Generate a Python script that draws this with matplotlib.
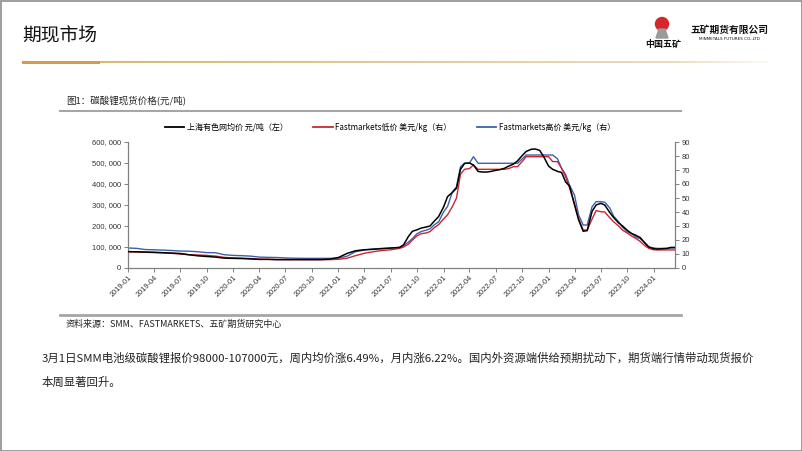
import numpy as np
import pandas as pd
import matplotlib
matplotlib.use("Agg")
import matplotlib.pyplot as plt
from matplotlib.lines import Line2D
from matplotlib.patches import Rectangle, Circle, Polygon
from matplotlib.ticker import FuncFormatter, MultipleLocator

plt.rcParams['font.family'] = ['Noto Sans CJK SC', 'DejaVu Sans']

# ---------------- data ----------------
monthly_dates = pd.date_range('2019-01-01', '2021-08-01', freq='MS')
semi_dates = []
for d in pd.date_range('2021-08-01', '2024-03-01', freq='MS'):
    if d > pd.Timestamp('2021-08-01'):
        semi_dates.append(d)
    semi_dates.append(d + pd.Timedelta(days=14))
dates = list(monthly_dates) + semi_dates  # ends 2024-03-15

smm_avg = [  # 上海有色网均价, 元/吨 (thousands)
    78, 77, 76, 75, 73, 71, 69, 63, 58, 55, 52, 47,
    46, 45, 43, 41, 41, 40, 40, 40, 40, 40, 40, 42,
    50, 70, 82, 87, 89, 92, 95, 98,
    110, 150, 175, 182, 190, 195, 200, 225, 245,
    290, 340, 360, 380, 470, 498, 500, 490, 460, 457,
    457, 460, 465, 468, 475, 485, 495, 510, 535, 555,
    565, 567, 560, 530, 485, 470, 460, 455, 410, 390,
    300, 230, 175, 178, 270, 300, 308, 300, 265, 240,
    215, 200, 180, 165, 155, 145, 120, 100, 92, 90,
    92, 93, 98, 98,
]
fm_low = [  # Fastmarkets低价, 美元/kg
    11.6, 11.5, 11.2, 11.0, 10.8, 10.5, 10.0, 9.5, 9.3, 9.0, 8.5, 7.6,
    7.2, 7.0, 6.8, 6.3, 6.2, 6.0, 6.0, 6.0, 6.0, 6.0, 6.0, 6.0,
    6.2, 7.0, 8.8, 10.5, 11.6, 12.5, 13.0, 14.0,
    15.0, 17.0, 20.0, 23.0, 24.5, 25.0, 26.0, 29.0, 31.0,
    35.0, 38.0, 44.0, 50.0, 67.0, 70.5, 71.0, 73.6, 70.5, 70.5,
    70.5, 70.5, 70.5, 70.5, 70.5, 71.0, 72.4, 72.4, 76.0, 79.5,
    79.5, 79.5, 79.5, 79.5, 79.5, 76.0, 76.0, 71.2, 65.2, 57.0,
    46.0, 35.5, 27.1, 27.1, 35.0, 41.0, 40.2, 40.0, 36.0, 33.0,
    30.0, 27.0, 25.0, 23.0, 21.0, 19.0, 16.0, 14.0, 13.0, 12.9,
    12.9, 12.9, 12.9, 12.9,
]
fm_high = [  # Fastmarkets高价, 美元/kg
    14.3, 14.0, 13.2, 13.0, 12.8, 12.5, 12.1, 12.0, 11.6, 11.0, 10.9, 9.5,
    9.0, 8.8, 8.5, 7.8, 7.6, 7.5, 7.2, 7.0, 6.9, 6.9, 6.9, 6.9,
    7.0, 8.5, 11.6, 12.8, 13.6, 14.0, 14.2, 14.6,
    16.0, 18.5, 21.0, 24.5, 26.0, 27.0, 28.0, 31.0, 33.0,
    40.0, 44.0, 54.5, 58.0, 72.4, 74.8, 75.0, 79.5, 74.8, 74.8,
    74.8, 74.8, 74.8, 74.8, 74.8, 74.8, 74.8, 74.8, 77.9, 80.7,
    80.7, 80.7, 80.7, 80.7, 80.7, 80.7, 78.0, 71.2, 66.9, 59.0,
    52.0, 38.0, 30.7, 30.7, 43.8, 47.4, 47.4, 47.0, 43.0, 37.0,
    33.0, 29.0, 26.0, 24.8, 22.0, 21.0, 18.0, 15.0, 14.3, 14.0,
    14.0, 14.0, 14.3, 14.3,
]
tick_labels = [f'{y}-{m:02d}' for y in range(2019, 2025) for m in (1, 4, 7, 10)][:21]
series_labels = ['上海有色网均价 元/吨（左）', 'Fastmarkets低价 美元/kg（右）', 'Fastmarkets高价 美元/kg（右）']

# ---------------- figure ----------------
W, H = 802, 451
fig = plt.figure(figsize=(W / 100, H / 100), dpi=100)
bg = fig.add_axes([0, 0, 1, 1])
bg.set_xlim(0, W)
bg.set_ylim(H, 0)
bg.axis('off')

# frame
bg.add_patch(Rectangle((0.5, 0.5), W - 1, H - 1, fill=False, ec='#8c8c8c', lw=1.2))

# header
bg.text(22, 36, '期现市场', fontsize=13.5, color='#111111', va='center', ha='left')
grad = np.linspace(0, 1, 400)
c0 = np.array([0.86, 0.72, 0.45])
c1 = np.array([0.93, 0.88, 0.78])
rgb = c0[None, :] * (1 - grad[:, None]) + c1[None, :] * grad[:, None]
alpha = np.ones(400)
alpha[-60:] = np.linspace(1, 0.2, 60)
img = np.concatenate([rgb, alpha[:, None]], axis=1)[None, :, :]
bg.imshow(img, extent=[100, 769, 63, 61.5], aspect='auto', zorder=2)
bg.add_patch(Rectangle((22, 61), 78, 2.6, color='#D99A4E', lw=0, zorder=3))

# logo
bg.add_patch(Circle((662, 24), 6.5, color='#D7262B', zorder=3))
bg.add_patch(Polygon([[656, 38], [668, 38], [665, 29], [659, 29]], closed=True, color='#9a9a9a', zorder=3))
bg.text(663, 44.5, '中国五矿', fontsize=6.5, fontweight='bold', ha='center', va='center', color='#111111')
bg.text(729, 30, '五矿期货有限公司', fontsize=7, fontweight='bold', ha='center', va='center', color='#111111')
bg.text(729, 38.5, 'MINMETALS FUTURES CO.,LTD', fontsize=3, ha='center', va='center', color='#111111',
        family='DejaVu Sans')

# chart caption and rules
bg.text(66, 101, '图1：碳酸锂现货价格(元/吨)', fontsize=6.8, ha='left', va='center', color='#222222')
bg.plot([60, 681], [111, 111], color='#a6a6a6', lw=1.5)
bg.plot([60, 681], [314.5, 314.5], color='#a6a6a6', lw=2)
bg.text(66, 324.5, '资料来源：SMM、FASTMARKETS、五矿期货研究中心', fontsize=6.5, ha='left', va='center', color='#222222')

# body text
bg.text(42, 358, '3月1日SMM电池级碳酸锂报价98000-107000元，周内均价涨6.49%，月内涨6.22%。国内外资源端供给预期扰动下，期货端行情带动现货报价',
        fontsize=8.2, ha='left', va='center', color='#222222')
bg.text(42, 382, '本周显著回升。', fontsize=8.2, ha='left', va='center', color='#222222')

# ---------------- main chart ----------------
L, R, T, B = 128, 675, 142, 268
ax = fig.add_axes([L / W, 1 - B / H, (R - L) / W, (B - T) / H])
ax2 = ax.twinx()

black_c, red_c, blue_c = '#000000', '#CF2530', '#3B62AE'
x = pd.to_datetime(dates)
ax.plot(x, np.array(smm_avg) * 1000, color=black_c, lw=1.1, zorder=3)
ax2.plot(x, fm_low, color=red_c, lw=1.0, zorder=2)
ax2.plot(x, fm_high, color=blue_c, lw=1.0, zorder=1)
ax.set_zorder(ax2.get_zorder() + 1)
ax.patch.set_visible(False)

ax.set_xlim(x[0], x[-1])
ax.set_ylim(0, 600000)
ax2.set_ylim(0, 90)
ax.yaxis.set_major_locator(MultipleLocator(100000))
ax2.yaxis.set_major_locator(MultipleLocator(10))
ax.yaxis.set_major_formatter(FuncFormatter(lambda v, p: f'{int(v):,}'.replace(',', ', ')))

tick_pos = pd.to_datetime([t + '-01' for t in tick_labels])
ax.set_xticks(tick_pos)
ax.set_xticklabels(tick_labels, rotation=45, ha='right', rotation_mode='anchor')

for a in (ax, ax2):
    for s in a.spines.values():
        s.set_color('#808080')
        s.set_linewidth(0.9)
    a.spines['top'].set_visible(False)
ax.spines['right'].set_visible(False)
ax2.spines['left'].set_visible(False)
ax2.spines['bottom'].set_visible(False)

ax.tick_params(axis='x', direction='out', length=3, width=0.7, color='#808080', labelsize=5.3, pad=1.5, labelcolor='#333333')
ax.tick_params(axis='y', direction='out', length=3, width=0.7, color='#808080', labelsize=5.5, pad=2, labelcolor='#333333')
ax2.tick_params(axis='y', direction='out', length=3, width=0.7, color='#808080', labelsize=5.5, pad=2, labelcolor='#333333')
for lab in ax.get_xticklabels() + ax.get_yticklabels() + ax2.get_yticklabels():
    lab.set_family('Liberation Sans')

handles = [Line2D([], [], color=black_c, lw=1.3), Line2D([], [], color=red_c, lw=1.3),
           Line2D([], [], color=blue_c, lw=1.3)]
fig.legend(handles, series_labels, loc='center', bbox_to_anchor=(390 / W, 1 - 127 / H), ncol=3,
           frameon=False, fontsize=5.8, handlelength=2.4, handletextpad=0.3, columnspacing=3.2)

fig.savefig('out.png', dpi=100)
